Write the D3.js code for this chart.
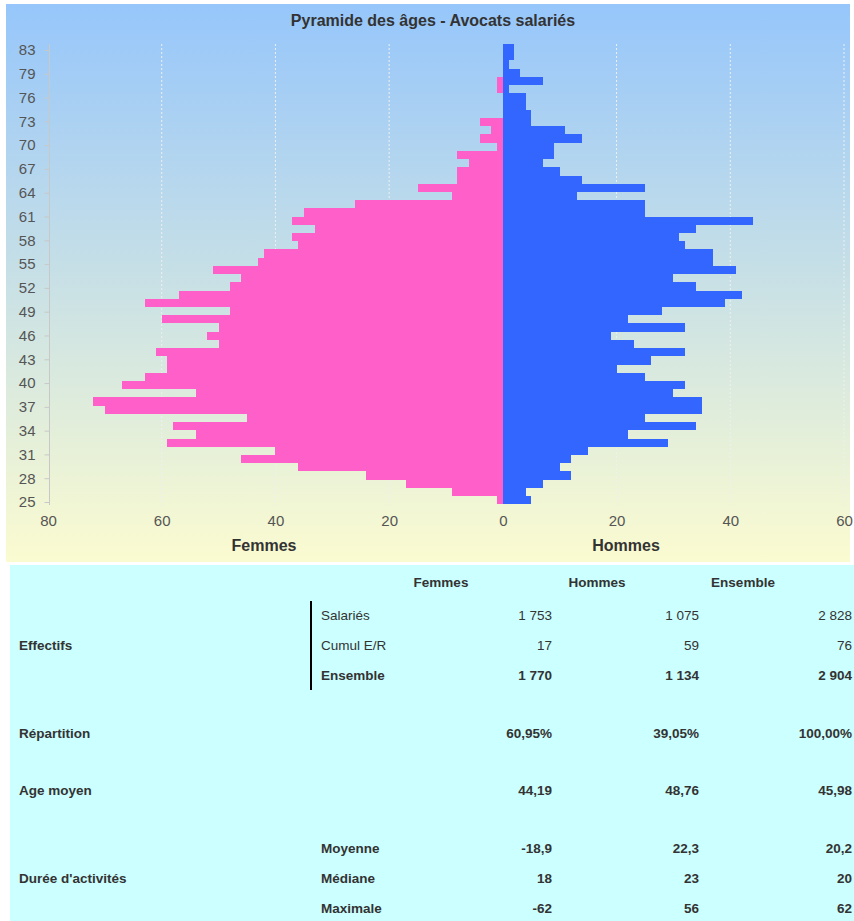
<!DOCTYPE html>
<html><head><meta charset="utf-8">
<script src="https://cdn.jsdelivr.net/npm/d3@7"></script>
<style>
body{margin:0;background:#ffffff}
svg{display:block}
text{font-family:"Liberation Sans",Arial,sans-serif}
</style>
</head><body>
<svg id="chart" width="854" height="921"></svg>
<script>
// ---- data ----
const ages = [25,26,27,28,29,30,31,32,33,34,35,36,37,38,39,40,41,42,43,44,45,46,47,48,49,50,51,52,53,54,55,56,57,58,59,60,61,62,63,64,65,66,67,68,69,70,71,72,73,74,75,76,77,78,79,80];
const femmes = [1,9,17,24,36,46,40,59,54,58,45,70,72,54,67,63,59,59,61,50,52,50,60,48,63,57,48,46,51,43,42,36,37,33,37,35,26,9,15,8,8,6,8,1,4,2,4,0,0,0,1,1,0,0,0,0];
const hommes = [5,4,7,12,10,12,15,29,22,34,25,35,35,30,32,25,20,26,32,23,19,32,22,28,39,42,34,30,41,37,37,32,31,34,44,25,25,13,25,14,10,7,9,9,14,11,5,5,4,4,1,7,3,1,2,2];
const yTickLabels = ["25","28","31","34","37","40","43","46","49","52","55","58","61","64","67","70","73","76","79","83"];
const xTicks = [-80,-60,-40,-20,0,20,40,60];
const chartTitle = "Pyramide des âges - Avocats salariés";
const sideTitles = ["Femmes","Hommes"];

const tableHeaders = ["Femmes","Hommes","Ensemble"];
const effectifsRows = [
  {label:"Salariés", values:["1 753","1 075","2 828"], bold:false},
  {label:"Cumul E/R", values:["17","59","76"], bold:false},
  {label:"Ensemble", values:["1 770","1 134","2 904"], bold:true}
];
const repartition = ["60,95%","39,05%","100,00%"];
const ageMoyen = ["44,19","48,76","45,98"];
const dureeRows = [
  {label:"Moyenne", values:["-18,9","22,3","20,2"]},
  {label:"Médiane", values:["18","23","20"]},
  {label:"Maximale", values:["-62","56","62"]}
];

// ---- drawing ----
const svg = d3.select("#chart");
const defs = svg.append("defs");
const grad = defs.append("linearGradient").attr("id","bg").attr("x1",0).attr("y1",0).attr("x2",0).attr("y2",1);
grad.append("stop").attr("offset","0%").attr("stop-color","#96c6fb");
grad.append("stop").attr("offset","100%").attr("stop-color","#fbfbd0");

svg.append("rect").attr("x",6).attr("y",4).attr("width",844).attr("height",558).attr("fill","url(#bg)");

const x = d3.scaleLinear().domain([-80,60]).range([48,844]);
const y = d3.scaleBand().domain(ages.slice().reverse()).range([44,504.3]).padding(0);
const yl = d3.scalePoint().domain(yTickLabels).range([502,50]);

// grid
svg.append("g").selectAll("line").data(xTicks.filter(d=>d!==0 && d!==-80)).join("line")
  .attr("x1",d=>x(d)).attr("x2",d=>x(d)).attr("y1",44).attr("y2",505)
  .attr("stroke","#eef0f0").attr("stroke-width",1).attr("stroke-dasharray","2,2");

// bars
const rows = ages.map((a,i)=>({age:a,f:femmes[i],h:hommes[i]}));
svg.append("g").selectAll("rect").data(rows).join("rect")
  .attr("x",d=>x(-d.f)).attr("width",d=>x(0)-x(-d.f))
  .attr("y",d=>y(d.age)).attr("height",y.bandwidth())
  .attr("fill","#ff5fc8").attr("shape-rendering","crispEdges");
svg.append("g").selectAll("rect").data(rows).join("rect")
  .attr("x",x(0)).attr("width",d=>x(d.h)-x(0))
  .attr("y",d=>y(d.age)).attr("height",y.bandwidth())
  .attr("fill","#3366ff").attr("shape-rendering","crispEdges");

// y axis
svg.append("line").attr("x1",49.5).attr("x2",49.5).attr("y1",44).attr("y2",505).attr("stroke","#c8c8c8");
const ya = svg.append("g").attr("transform","translate(49.5,0)")
  .call(d3.axisLeft(yl).tickSize(5).tickPadding(9));
ya.select(".domain").remove();
ya.selectAll(".tick line").attr("stroke","#c8c8c8");
ya.selectAll(".tick text").attr("font-size","15px").attr("fill","#555").attr("font-family","'Liberation Sans',Arial,sans-serif");

// x axis
const xa = svg.append("g").attr("transform","translate(0,512)")
  .call(d3.axisBottom(x).tickValues(xTicks).tickSize(0).tickPadding(3).tickFormat(d=>Math.abs(d)));
xa.select(".domain").remove();
xa.selectAll(".tick text").attr("font-size","15px").attr("fill","#555").attr("font-family","'Liberation Sans',Arial,sans-serif");

// titles
svg.append("text").attr("x",433).attr("y",26).attr("text-anchor","middle")
  .attr("font-size","16px").attr("font-weight","bold").attr("fill","#333").text(chartTitle);
svg.append("text").attr("x",264).attr("y",551).attr("text-anchor","middle")
  .attr("font-size","16px").attr("font-weight","bold").attr("fill","#333").text(sideTitles[0]);
svg.append("text").attr("x",626).attr("y",551).attr("text-anchor","middle")
  .attr("font-size","16px").attr("font-weight","bold").attr("fill","#333").text(sideTitles[1]);

// ---- table ----
svg.append("rect").attr("x",10).attr("y",565).attr("width",844).attr("height",356).attr("fill","#ccffff");
const fs = "13.5px";
const colCenters = [441,597,743];
const colRights = [552,699,852];
const tg = svg.append("g").attr("fill","#333").attr("font-size",fs);
tg.selectAll("text.h").data(tableHeaders).join("text").attr("class","h")
  .attr("x",(d,i)=>colCenters[i]).attr("y",587).attr("text-anchor","middle").attr("font-weight","bold").text(d=>d);

function row(yy, label, sub, values, bold, subBold){
  if(label) tg.append("text").attr("x",19).attr("y",yy).attr("font-weight","bold").text(label);
  if(sub) tg.append("text").attr("x",321).attr("y",yy).attr("font-weight",subBold?"bold":"normal").text(sub);
  values.forEach((v,i)=>tg.append("text").attr("x",colRights[i]).attr("y",yy).attr("text-anchor","end")
    .attr("font-weight",bold?"bold":"normal").text(v));
}
const effY = [620,650,680];
effectifsRows.forEach((r,i)=>row(effY[i], null, r.label, r.values, r.bold, r.bold));
tg.append("text").attr("x",19).attr("y",650).attr("font-weight","bold").text("Effectifs");
tg.append("line").attr("x1",311).attr("x2",311).attr("y1",601).attr("y2",690).attr("stroke","#000").attr("stroke-width",2);
row(738,"Répartition",null,repartition,true,false);
row(795,"Age moyen",null,ageMoyen,true,false);
const durY = [853,883,913];
dureeRows.forEach((r,i)=>row(durY[i], null, r.label, r.values, true, true));
tg.append("text").attr("x",19).attr("y",883).attr("font-weight","bold").text("Durée d'activités");
</script>
</body></html>
